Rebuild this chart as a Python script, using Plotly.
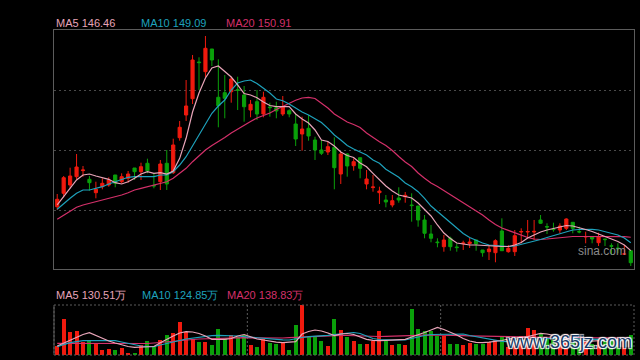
import plotly.graph_objects as go

# ---------------- data ----------------
days = list(range(90))

open_ = [161.10,165.57,168.33,171.10,173.13,170.23,165.77,167.77,168.33,171.67,
169.43,170.57,174.00,172.77,175.57,168.17,169.43,175.57,172.43,184.10,
191.67,197.10,209.33,206.10,213.67,197.57,199.10,199.43,200.10,198.33,
193.33,196.10,192.00,194.33,194.10,192.00,193.10,188.67,185.33,187.23,
183.33,180.00,179.33,180.90,172.00,178.67,174.77,177.43,168.67,167.47,
165.77,163.33,161.67,164.00,164.43,161.67,161.33,156.67,152.00,149.33,
147.77,150.57,147.67,148.80,148.83,150.00,146.67,146.10,145.77,153.00,
146.10,146.10,152.67,152.67,152.67,156.67,154.50,153.67,153.33,153.90,
155.90,152.83,151.00,151.10,149.10,150.33,148.10,147.33,145.23,146.43]

close = [163.57,170.77,171.33,174.33,173.33,169.10,166.90,168.90,170.00,168.90,
171.10,172.00,172.77,174.43,173.10,168.03,175.33,168.67,181.67,187.57,
194.67,210.00,209.13,213.90,210.00,194.77,197.23,203.67,199.90,194.43,
195.23,192.00,197.57,194.13,193.00,194.43,192.00,183.67,187.00,184.67,
180.00,178.90,181.10,174.10,178.67,174.67,176.10,173.90,170.33,167.67,
166.33,162.67,163.10,163.33,164.90,161.47,156.67,152.23,150.57,149.13,
150.00,147.77,147.47,149.00,149.33,148.67,145.77,147.00,149.77,146.43,
147.23,151.43,152.83,152.83,152.87,155.57,154.33,153.47,154.67,157.00,
153.90,152.67,151.17,150.33,151.10,150.13,147.93,147.13,145.40,142.43]

high = [165.33,171.33,174.10,178.67,174.67,171.33,169.43,170.57,170.90,171.67,
172.23,173.00,174.00,175.77,177.10,172.23,176.67,180.00,183.77,189.67,
203.33,211.67,210.90,218.00,213.67,210.23,205.00,204.43,204.43,201.33,
196.67,200.00,199.43,195.77,196.10,198.00,193.57,192.00,191.10,191.67,
184.43,183.33,182.77,184.23,179.43,178.90,177.23,177.43,173.33,171.67,
167.77,165.00,165.00,167.57,166.00,165.57,161.33,158.33,155.00,150.57,
151.67,151.10,148.90,149.77,150.67,150.00,146.67,148.33,150.23,157.23,
148.33,153.33,153.90,156.67,156.67,158.33,155.57,155.77,155.57,157.23,
155.90,154.43,152.77,151.10,152.43,150.33,148.90,148.90,148.33,146.43]

low = [160.00,164.23,167.23,170.23,171.10,166.43,163.90,166.90,167.77,167.57,
168.90,169.10,170.00,170.00,172.23,167.23,166.67,166.67,172.00,183.10,
189.67,195.33,200.00,204.23,208.00,187.57,190.57,195.77,193.33,189.43,
190.90,190.00,190.90,191.10,190.57,191.33,190.90,181.33,179.77,183.10,
176.67,178.33,178.33,166.90,168.67,171.10,173.10,170.57,166.90,166.10,
162.00,160.90,160.90,162.43,162.43,156.10,154.43,150.57,149.23,147.57,
146.10,146.43,146.10,146.67,147.33,146.43,144.43,143.33,142.57,146.43,
145.77,144.67,148.90,150.57,150.00,155.33,152.00,152.77,152.23,153.33,
152.23,152.23,148.90,148.90,148.00,148.00,145.00,145.57,145.00,141.33]

ma5 = [161.67,164.43,167.23,170.00,171.67,172.00,171.33,170.90,170.23,169.10,
168.67,169.43,170.57,172.00,172.77,172.23,172.43,172.00,173.00,177.23,
183.90,192.67,199.00,204.00,207.33,208.00,206.00,204.33,201.67,198.83,
198.33,197.43,196.00,194.83,194.43,194.43,194.43,192.00,190.33,189.00,
186.67,183.33,182.83,181.33,179.33,178.17,177.50,175.67,174.43,172.23,
170.00,168.00,166.33,165.00,164.50,164.00,162.33,160.00,158.00,155.00,
152.33,150.50,149.00,148.67,148.33,148.33,148.17,148.00,147.83,147.83,
147.83,148.33,149.17,150.67,151.67,152.67,153.33,153.83,154.33,154.83,
154.67,154.17,153.50,152.83,152.00,151.17,150.33,149.50,148.33,146.46]

ma10 = [160.23,162.23,163.90,165.57,166.67,166.67,167.23,167.77,168.67,169.43,
170.23,170.90,171.10,171.10,171.10,171.10,171.67,171.67,172.77,175.00,
177.77,181.33,185.00,188.67,192.23,194.67,196.67,200.00,202.33,203.00,
203.33,202.17,200.57,199.00,197.00,196.43,195.33,194.00,192.67,191.67,
190.33,189.17,187.23,185.00,183.33,181.50,180.33,179.43,178.33,176.67,
175.57,173.57,172.33,170.90,169.00,167.77,166.10,163.90,161.33,159.50,
157.67,155.67,153.83,152.17,150.83,149.83,149.00,148.33,148.17,148.00,
147.83,148.00,148.50,149.00,149.50,150.17,150.83,151.50,152.00,152.77,
153.33,153.50,153.57,153.57,153.33,152.83,152.33,151.67,150.67,149.09]

ma20 = [156.90,158.33,159.77,160.90,161.67,162.23,162.57,163.10,163.67,164.23,
165.00,165.77,166.67,167.23,167.77,168.10,168.67,169.43,170.57,172.23,
173.90,176.10,178.17,180.00,181.50,182.77,184.17,185.67,187.00,188.33,
189.50,190.67,191.50,192.33,193.50,194.50,195.67,196.57,197.33,197.53,
197.17,195.50,194.00,192.00,190.67,189.33,188.50,187.50,185.67,184.17,
182.77,181.50,179.83,177.83,176.00,174.50,172.33,170.57,169.00,167.83,
166.50,165.17,163.83,162.50,161.17,159.83,158.33,156.67,155.17,154.00,
153.17,152.33,151.67,150.83,150.33,150.17,150.33,150.57,150.83,151.10,
151.17,151.17,151.17,151.23,151.33,151.33,151.33,151.23,151.10,150.91]

# volume in 万
volume = [73.8,295.2,191.0,196.8,109.0,118.9,88.6,41.0,49.2,41.0,
54.9,18.9,18.9,82.0,114.8,73.8,123.0,164.0,182.0,272.2,
186.1,128.7,109.1,109.1,77.9,213.2,141.9,164.0,150.1,164.0,
82.0,61.5,131.2,100.9,88.6,106.6,41.0,246.0,410.0,145.1,
145.1,117.3,75.4,295.2,205.0,150.1,114.8,90.2,90.2,114.8,
196.8,117.3,82.0,90.2,82.0,377.2,213.2,196.8,196.8,158.3,
158.3,90.2,90.2,82.0,95.9,90.2,90.2,104.1,123.0,145.1,
63.1,104.1,155.8,223.9,205.0,169.7,150.0,120.0,110.0,170.0,
130.0,100.0,110.0,90.0,130.0,120.0,140.0,110.0,120.0,160.0]

vol_ma5 = [73.8,98.4,123.0,150.1,168.1,182.9,159.9,131.2,114.8,98.4,
82.0,69.7,63.1,65.6,68.1,69.7,100.9,131.2,155.8,180.4,
191.1,188.6,176.3,155.8,128.7,128.7,128.7,135.3,155.8,168.1,
147.6,131.2,123.0,112.3,105.0,100.9,102.5,109.1,172.2,192.7,
205.0,196.8,180.4,159.9,172.2,176.3,168.1,147.6,128.7,120.5,
117.3,120.5,123.0,125.5,128.7,147.6,164.0,184.5,205.0,225.5,
209.1,188.6,164.0,135.3,114.8,104.1,100.9,105.0,110.7,118.9,
131.2,136.9,143.5,150.1,164.0,177.9,172.2,164.0,150.1,136.9,
123.0,109.1,110.7,114.8,118.9,123.0,127.1,128.7,129.6,130.51]

vol_ma10 = [68.1,84.5,100.9,109.1,117.3,117.3,117.3,117.3,117.3,117.3,
106.6,95.9,84.5,73.8,69.7,68.1,82.0,95.9,106.6,118.9,
131.2,139.4,147.6,153.3,158.3,161.5,161.5,161.5,155.8,150.1,
145.1,141.9,137.8,133.7,129.6,124.6,123.0,135.3,143.5,150.1,
155.8,158.3,161.5,166.5,172.2,180.4,184.5,176.3,155.8,135.3,
127.1,123.0,123.0,123.0,123.0,135.3,150.1,159.9,168.1,169.7,
170.6,172.2,172.2,172.2,159.9,150.1,139.4,127.1,118.9,112.3,
109.1,109.1,114.8,123.0,131.2,136.9,136.9,135.3,133.7,132.8,
131.2,131.2,129.6,128.7,127.1,126.3,125.5,125.2,125.0,124.85]

vol_ma20 = [95.9,95.9,95.9,95.9,95.9,95.9,95.9,95.9,95.9,95.9,
94.3,91.8,90.2,90.2,94.3,98.4,104.1,109.1,114.8,118.9,
123.0,127.1,131.2,133.7,135.3,136.9,137.8,139.4,141.0,141.9,
141.0,139.4,137.8,136.9,136.9,139.4,141.9,145.1,147.6,150.1,
151.7,153.3,155.8,159.9,161.5,159.9,157.4,155.8,153.3,151.7,
151.7,152.5,153.3,154.2,155.8,157.4,159.9,162.4,164.0,164.0,
164.0,162.4,160.7,159.1,157.4,155.8,154.2,152.5,150.9,149.2,
147.6,146.0,145.1,145.1,145.1,145.1,144.3,143.5,142.7,141.9,
141.0,141.0,140.2,140.2,139.4,139.4,139.4,138.9,138.9,138.83]

price_grid = [160, 180, 200]
month_breaks = [29.5, 59.5]

# ---------------- styles ----------------
RED = "#f01a0e"
GREEN = "#0aa00a"
C_MA5 = "#e8a4b8"
C_MA10 = "#1ea2bc"
C_MA20 = "#d4306a"
FONT = "Liberation Sans, Arial, sans-serif"

bar_colors = [RED if c >= o else GREEN for o, c in zip(open_, close)]

fig = go.Figure()
fig.add_trace(go.Candlestick(
    x=days, open=open_, high=high, low=low, close=close,
    increasing=dict(line=dict(color=RED, width=1), fillcolor=RED),
    decreasing=dict(line=dict(color=GREEN, width=1), fillcolor=GREEN),
    whiskerwidth=0, xaxis="x", yaxis="y", showlegend=False, hoverinfo="skip"))
for series, col in ((ma20, C_MA20), (ma10, C_MA10), (ma5, C_MA5)):
    fig.add_trace(go.Scatter(x=days, y=series, mode="lines",
                             line=dict(color=col, width=1.2),
                             xaxis="x", yaxis="y", showlegend=False, hoverinfo="skip"))

fig.add_trace(go.Bar(x=days, y=volume, marker=dict(color=bar_colors, line=dict(width=0)),
                     width=0.62, xaxis="x2", yaxis="y2", showlegend=False, hoverinfo="skip"))
for series, col in ((vol_ma20, C_MA20), (vol_ma10, C_MA10), (vol_ma5, C_MA5)):
    fig.add_trace(go.Scatter(x=days, y=series, mode="lines",
                             line=dict(color=col, width=1.2),
                             xaxis="x2", yaxis="y2", showlegend=False, hoverinfo="skip"))

xr = [-0.5, len(days) - 0.5]
fig.update_layout(
    width=640, height=360,
    paper_bgcolor="#000000", plot_bgcolor="#000000",
    margin=dict(l=54, r=6, t=30, b=5),
    font=dict(family=FONT, size=11, color="#cccccc"),
    showlegend=False,
    xaxis=dict(domain=[0, 1], range=xr, showgrid=False, zeroline=False,
               showticklabels=False, ticks="", rangeslider=dict(visible=False),
               showline=True, mirror=True, linecolor="#5c5c5c", linewidth=1, anchor="y"),
    yaxis=dict(domain=[0.2646, 1], range=[140.33, 220], tickvals=price_grid,
               showticklabels=False, ticks="", gridcolor="#4a4a4a", griddash="2px,3px",
               gridwidth=1, zeroline=False,
               showline=True, mirror=True, linecolor="#5c5c5c", linewidth=1),
    xaxis2=dict(domain=[0, 1], range=xr, showgrid=False, zeroline=False,
                showticklabels=False, ticks="", anchor="y2", matches="x"),
    yaxis2=dict(domain=[0, 0.1538], range=[0, 410], showgrid=False, zeroline=False,
                showticklabels=False, ticks=""),
    bargap=0,
)

shapes = [
    dict(type="rect", xref="x2 domain", yref="y2 domain", x0=0, x1=1, y0=0, y1=1,
         line=dict(color="#5c5c5c", width=1, dash="2px,2px"), layer="above"),
    dict(type="line", xref="x2 domain", yref="y2 domain", x0=0, x1=0, y0=0, y1=1,
         line=dict(color="#5c5c5c", width=1), layer="above"),
]
for mb in month_breaks:
    shapes.append(dict(type="line", xref="x2", yref="y2 domain", x0=mb, x1=mb, y0=0, y1=1,
                       line=dict(color="#5c5c5c", width=1, dash="2px,2px"), layer="below"))
fig.update_layout(shapes=shapes)

def label(x, y, text, color):
    fig.add_annotation(xref="paper", yref="paper", x=x, y=y, text=text, showarrow=False,
                       xanchor="left", yanchor="middle",
                       font=dict(family=FONT, size=11, color=color))

top_y = 1.0205
label(0.0, top_y, "MA5 146.46", C_MA5)
label(0.147, top_y, "MA10 149.09", C_MA10)
label(0.293, top_y, "MA20 150.91", C_MA20)
vol_y = 0.1846
label(0.0, vol_y, "MA5 130.51万", C_MA5)
label(0.149, vol_y, "MA10 124.85万", C_MA10)
label(0.295, vol_y, "MA20 138.83万", C_MA20)

fig.add_annotation(xref="paper", yref="paper", x=0.99, y=0.32, text="sina.com",
                   showarrow=False, xanchor="right", yanchor="middle",
                   font=dict(family=FONT, size=12, color="#8a8a8a"))
fig.add_annotation(xref="paper", yref="paper", x=1.0, y=0.04, text="www.365jz.com",
                   showarrow=False, xanchor="right", yanchor="middle",
                   font=dict(family=FONT, size=18, color="#163a66",
                             shadow="1px 1px 1px #ffffff, -1px -1px 1px #ffffff, 1px -1px 1px #ffffff, -1px 1px 1px #ffffff"))

fig.write_html("out.html", config={"displayModeBar": False},
               post_script="document.body.style.margin='0';document.body.style.overflow='hidden';")
